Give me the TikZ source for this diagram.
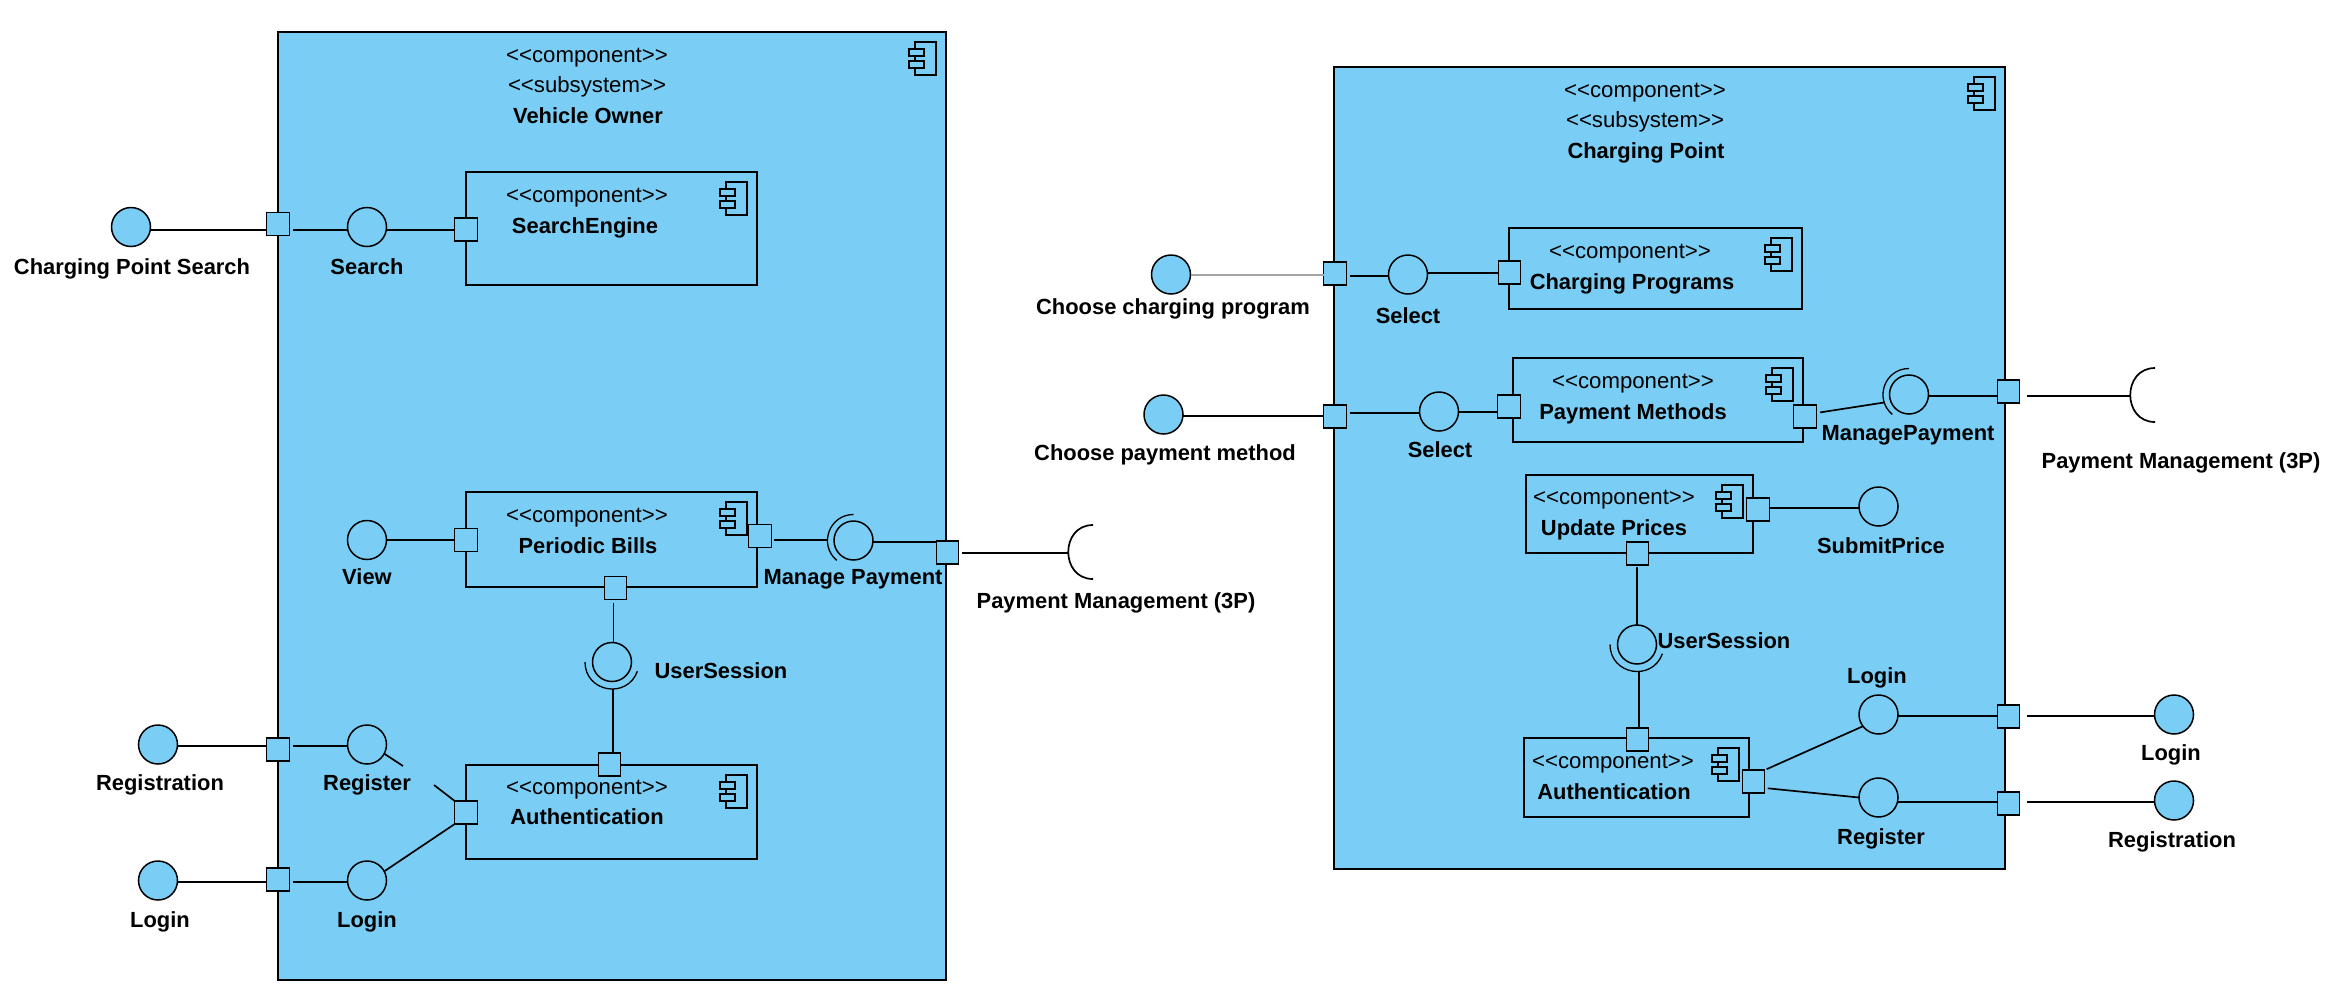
\documentclass[tikz,border=0pt]{standalone}
\usepackage{fontspec}
\setmainfont{Liberation Sans}
\usetikzlibrary{positioning}
\definecolor{partFill}{RGB}{122,206,245}
\tikzstyle{componentSheet} = [x = 1pt, y = -1pt]
\tikzstyle{boxStyle} = [draw=black, fill=partFill, line width=1.7pt, rectangle, anchor=north west, inner sep=0, outer sep=0]
\tikzstyle{iconStyle} = [draw=black, fill=partFill, line width=1.4pt]
\tikzstyle{portStyle} = [draw=black, fill=partFill, line width=1.4pt, rectangle, minimum width=22.5pt, minimum height=23pt, inner sep=0, outer sep=0]
\tikzstyle{ballStyle} = [draw=black, line width=1.5pt, circle, minimum size=39pt, inner sep=0, outer sep=0]
\tikzstyle{providedStyle} = [ballStyle, fill=partFill]
\tikzstyle{wireStyle} = [color=black, line width=1.7pt]
\tikzstyle{stereoText} = [font=\fontsize{22.2}{26}\selectfont, inner sep=0, text height=17pt, text depth=4.4pt]
\tikzstyle{nameText} = [font=\fontsize{21.9}{26}\selectfont\bfseries, inner sep=0, text height=15.4pt, text depth=0pt]
\newcommand{\componentBox}[5]{
  \node [boxStyle, minimum width=#4pt, minimum height=#5pt] (#1) at (#2,#3) {};
  \draw [iconStyle] ([xshift=-31pt,yshift=-10pt]#1.north east) rectangle +(21,33);
  \draw [iconStyle] ([xshift=-37pt,yshift=-17pt]#1.north east) rectangle +(15,7);
  \draw [iconStyle] ([xshift=-37pt,yshift=-29pt]#1.north east) rectangle +(15,7);
}
\newcommand{\portNode}[3]{\node [portStyle] (#1) at (#2,#3) {};}
\newcommand{\ballNode}[3]{\node [ballStyle] (#1) at (#2,#3) {};}
\newcommand{\providedNode}[3]{\node [providedStyle] (#1) at (#2,#3) {};}
\newcommand{\stereoLabel}[4]{\node [stereoText] (#1) at (#2,#3) {<{}<#4>{}>};}
\newcommand{\nameLabel}[4]{\node [nameText] (#1) at (#2,#3) {#4};}
% wire at a fixed height or column between two nodes
\newcommand{\wireH}[4][]{\draw [wireStyle, #1] (#2.east |- 0,#4) -- (#3.west |- 0,#4);}
\newcommand{\wireV}[4][]{\draw [wireStyle, #1] (#2.south -| #4,0) -- (#3.north -| #4,0);}
\newcommand{\socketArc}[1]{\draw [wireStyle] ([shift={(25,-27)}]#1) .. controls ([shift={(-8,-27)}]#1) and ([shift={(-8,27)}]#1) .. ([shift={(25,27)}]#1);}
\newcommand{\leftCup}[1]{\draw [wireStyle, line width=1.3pt] ([shift={(0,-26)}]#1.center) .. controls ([shift={(-24.3,-26)}]#1.center) and ([shift={(-35.3,4.3)}]#1.center) .. ([shift={(-16.7,19.9)}]#1.center);}
\newcommand{\bottomCup}[1]{\draw [wireStyle, line width=1.3pt] ([shift={(-27,0)}]#1.center) .. controls ([shift={(-27,30.2)}]#1.center) and ([shift={(15.1,37.6)}]#1.center) .. ([shift={(25.4,9.2)}]#1.center);}

\begin{document}
\begin{tikzpicture}[componentSheet]
  \useasboundingbox (0,0) rectangle (2347,997);

  % vehicle owner
  \componentBox{ownerBox}{278}{32}{668}{948}
  \stereoLabel{ownerStereoA}{587}{56}{component}
  \stereoLabel{ownerStereoB}{587}{86}{subsystem}
  \nameLabel{ownerName}{588}{116}{Vehicle Owner}

  \componentBox{engineBox}{466}{172}{291}{113}
  \stereoLabel{engineStereo}{587}{196}{component}
  \nameLabel{engineName}{585}{226}{SearchEngine}

  \componentBox{billsBox}{466}{492}{291}{95}
  \stereoLabel{billsStereo}{587}{516}{component}
  \nameLabel{billsName}{588}{546}{Periodic Bills}

  \componentBox{authBox}{466}{765}{291}{94}
  \stereoLabel{authStereo}{587}{788}{component}
  \nameLabel{authName}{587}{817}{Authentication}

  \portNode{searchOut}{278}{224}
  \portNode{engineIn}{466}{229.5}
  \portNode{viewIn}{466}{540}
  \portNode{billsOut}{760}{536}
  \portNode{billsDown}{615.5}{588}
  \portNode{payOut}{947.5}{552.5}
  \portNode{authTop}{609.5}{764.5}
  \portNode{authIn}{466}{812.5}
  \portNode{regOut}{278}{749.5}
  \portNode{loginOut}{278}{879.5}

  \providedNode{searchExt}{131}{227}
  \ballNode{searchBall}{367}{227}
  \ballNode{viewBall}{367}{540}
  \ballNode{payBall}{853.5}{540.5}
  \ballNode{sessionBall}{612}{662}
  \providedNode{regExt}{158}{744.5}
  \ballNode{regBall}{367}{744.5}
  \providedNode{loginExt}{158}{880.5}
  \ballNode{loginBall}{367}{880.5}

  \wireH{searchExt}{searchOut}{230}
  \wireH[shorten <=4pt]{searchOut}{searchBall}{230}
  \wireH{searchBall}{engineIn}{230}
  \wireH{viewBall}{viewIn}{540}
  \wireH[shorten <=3pt, shorten >=6pt]{billsOut}{payBall}{540}
  \wireH{payBall}{payOut}{542}
  \leftCup{payBall}
  \wireV[shorten <=3pt]{billsDown}{sessionBall}{613.5}
  \bottomCup{sessionBall}
  \coordinate (ownerCup) at ([yshift=-7pt]sessionBall.south);
  \draw [wireStyle] (ownerCup -| 613,0) -- (authTop.north -| 613,0);
  \wireH{regExt}{regOut}{746}
  \wireH[shorten <=4pt]{regOut}{regBall}{746}
  \wireH{loginExt}{loginOut}{882}
  \wireH[shorten <=4pt]{loginOut}{loginBall}{882}
  \coordinate (regGapA) at (403,766);
  \coordinate (regGapB) at (434,785);
  \draw [wireStyle] (regBall.-28) -- (regGapA);
  \draw [wireStyle] (regGapB) -- (authIn.north west);
  \draw [wireStyle] (loginBall.28) -- (authIn.south west);

  \coordinate (ownerSocket) at (1068,552);
  \socketArc{ownerSocket}
  \wireH[shorten <=3pt]{payOut}{ownerSocket}{553}

  \nameLabel{searchExtName}{132}{267}{Charging Point Search}
  \nameLabel{searchBallName}{367}{267}{Search}
  \nameLabel{viewName}{367}{577}{View}
  \nameLabel{payName}{853}{577}{Manage Payment}
  \nameLabel{ownerSocketName}{1116}{601}{Payment Management (3P)}
  \nameLabel{sessionName}{721}{671}{UserSession}
  \nameLabel{regExtName}{160}{783}{Registration}
  \nameLabel{regBallName}{367}{783}{Register}
  \nameLabel{loginExtName}{160}{920}{Login}
  \nameLabel{loginBallName}{367}{920}{Login}

  % charging point
  \componentBox{pointBox}{1334}{67}{671}{802}
  \stereoLabel{pointStereoA}{1645}{91}{component}
  \stereoLabel{pointStereoB}{1645}{121}{subsystem}
  \nameLabel{pointName}{1646}{151}{Charging Point}

  \componentBox{programBox}{1509}{228}{293}{81}
  \stereoLabel{programStereo}{1630}{252}{component}
  \nameLabel{programName}{1632}{282}{Charging Programs}

  \componentBox{methodBox}{1513}{358}{290}{84}
  \stereoLabel{methodStereo}{1633}{382}{component}
  \nameLabel{methodName}{1633}{412}{Payment Methods}

  \componentBox{priceBox}{1526}{475}{227}{78}
  \stereoLabel{priceStereo}{1614}{498}{component}
  \nameLabel{priceName}{1614}{528}{Update Prices}

  \componentBox{accessBox}{1524}{738}{225}{79}
  \stereoLabel{accessStereo}{1613}{762}{component}
  \nameLabel{accessName}{1614}{792}{Authentication}

  \portNode{programOut}{1335}{273.5}
  \portNode{programIn}{1509.5}{272.5}
  \portNode{methodOut}{1335}{416.5}
  \portNode{methodIn}{1509}{406.5}
  \portNode{methodEast}{1805}{416.5}
  \portNode{manageOut}{2008.5}{391.5}
  \portNode{priceEast}{1758}{509.5}
  \portNode{priceDown}{1637.5}{553.5}
  \portNode{accessTop}{1637.5}{739.5}
  \portNode{accessEast}{1753.5}{781.5}
  \portNode{accessLogin}{2008.5}{716.5}
  \portNode{accessReg}{2008.5}{803.5}

  \providedNode{programExt}{1171}{274.5}
  \ballNode{programBall}{1408}{274.5}
  \providedNode{methodExt}{1163.5}{414.5}
  \ballNode{methodBall}{1439}{411.5}
  \ballNode{manageBall}{1909}{394.5}
  \ballNode{submitBall}{1878.5}{506.5}
  \ballNode{pointSession}{1637}{644.5}
  \ballNode{accessLoginBall}{1878.5}{714.5}
  \ballNode{accessRegBall}{1878.5}{797.5}
  \providedNode{loginFar}{2174}{714.5}
  \providedNode{regFar}{2174}{800.5}

  \wireH[color=black!35, line width=1.1pt]{programExt}{programOut}{275}
  \wireH[shorten <=4pt]{programOut}{programBall}{276}
  \wireH{programBall}{programIn}{273}
  \wireH{methodExt}{methodOut}{416}
  \wireH[shorten <=4pt]{methodOut}{methodBall}{413}
  \wireH{methodBall}{methodIn}{412}
  \draw [wireStyle, shorten <=4pt] (methodEast.east |- 0,413) -- ([shift={(-25,8)}]manageBall.center);
  \leftCup{manageBall}
  \wireH{manageBall}{manageOut}{396}
  \coordinate (pointSocket) at (2130,395);
  \socketArc{pointSocket}
  \wireH[shorten <=7pt]{manageOut}{pointSocket}{396}
  \wireH{priceEast}{submitBall}{508}
  \wireV[shorten <=2pt]{priceDown}{pointSession}{1637}
  \bottomCup{pointSession}
  \coordinate (pointCup) at ([yshift=-7pt]pointSession.south);
  \draw [wireStyle] (pointCup -| 1639,0) -- (accessTop.north -| 1639,0);
  \draw [wireStyle, shorten <=2pt] (accessEast.north east) -- (accessLoginBall.217);
  \draw [wireStyle, shorten <=3pt] (accessEast.east |- 0,788) -- (accessRegBall.west);
  \wireH{accessLoginBall}{accessLogin}{716}
  \wireH[shorten <=7pt]{accessLogin}{loginFar}{716}
  \wireH{accessRegBall}{accessReg}{802}
  \wireH[shorten <=7pt]{accessReg}{regFar}{802}

  \nameLabel{programExtName}{1173}{307}{Choose charging program}
  \nameLabel{programBallName}{1408}{316}{Select}
  \nameLabel{methodExtName}{1165}{453}{Choose payment method}
  \nameLabel{methodBallName}{1440}{450}{Select}
  \nameLabel{manageName}{1908}{433}{ManagePayment}
  \nameLabel{pointSocketName}{2181}{461}{Payment Management (3P)}
  \nameLabel{submitName}{1881}{546}{SubmitPrice}
  \nameLabel{pointSessionName}{1724}{641}{UserSession}
  \nameLabel{accessLoginName}{1877}{676}{Login}
  \nameLabel{accessRegName}{1881}{837}{Register}
  \nameLabel{loginFarName}{2171}{753}{Login}
  \nameLabel{regFarName}{2172}{840}{Registration}
\end{tikzpicture}
\end{document}
